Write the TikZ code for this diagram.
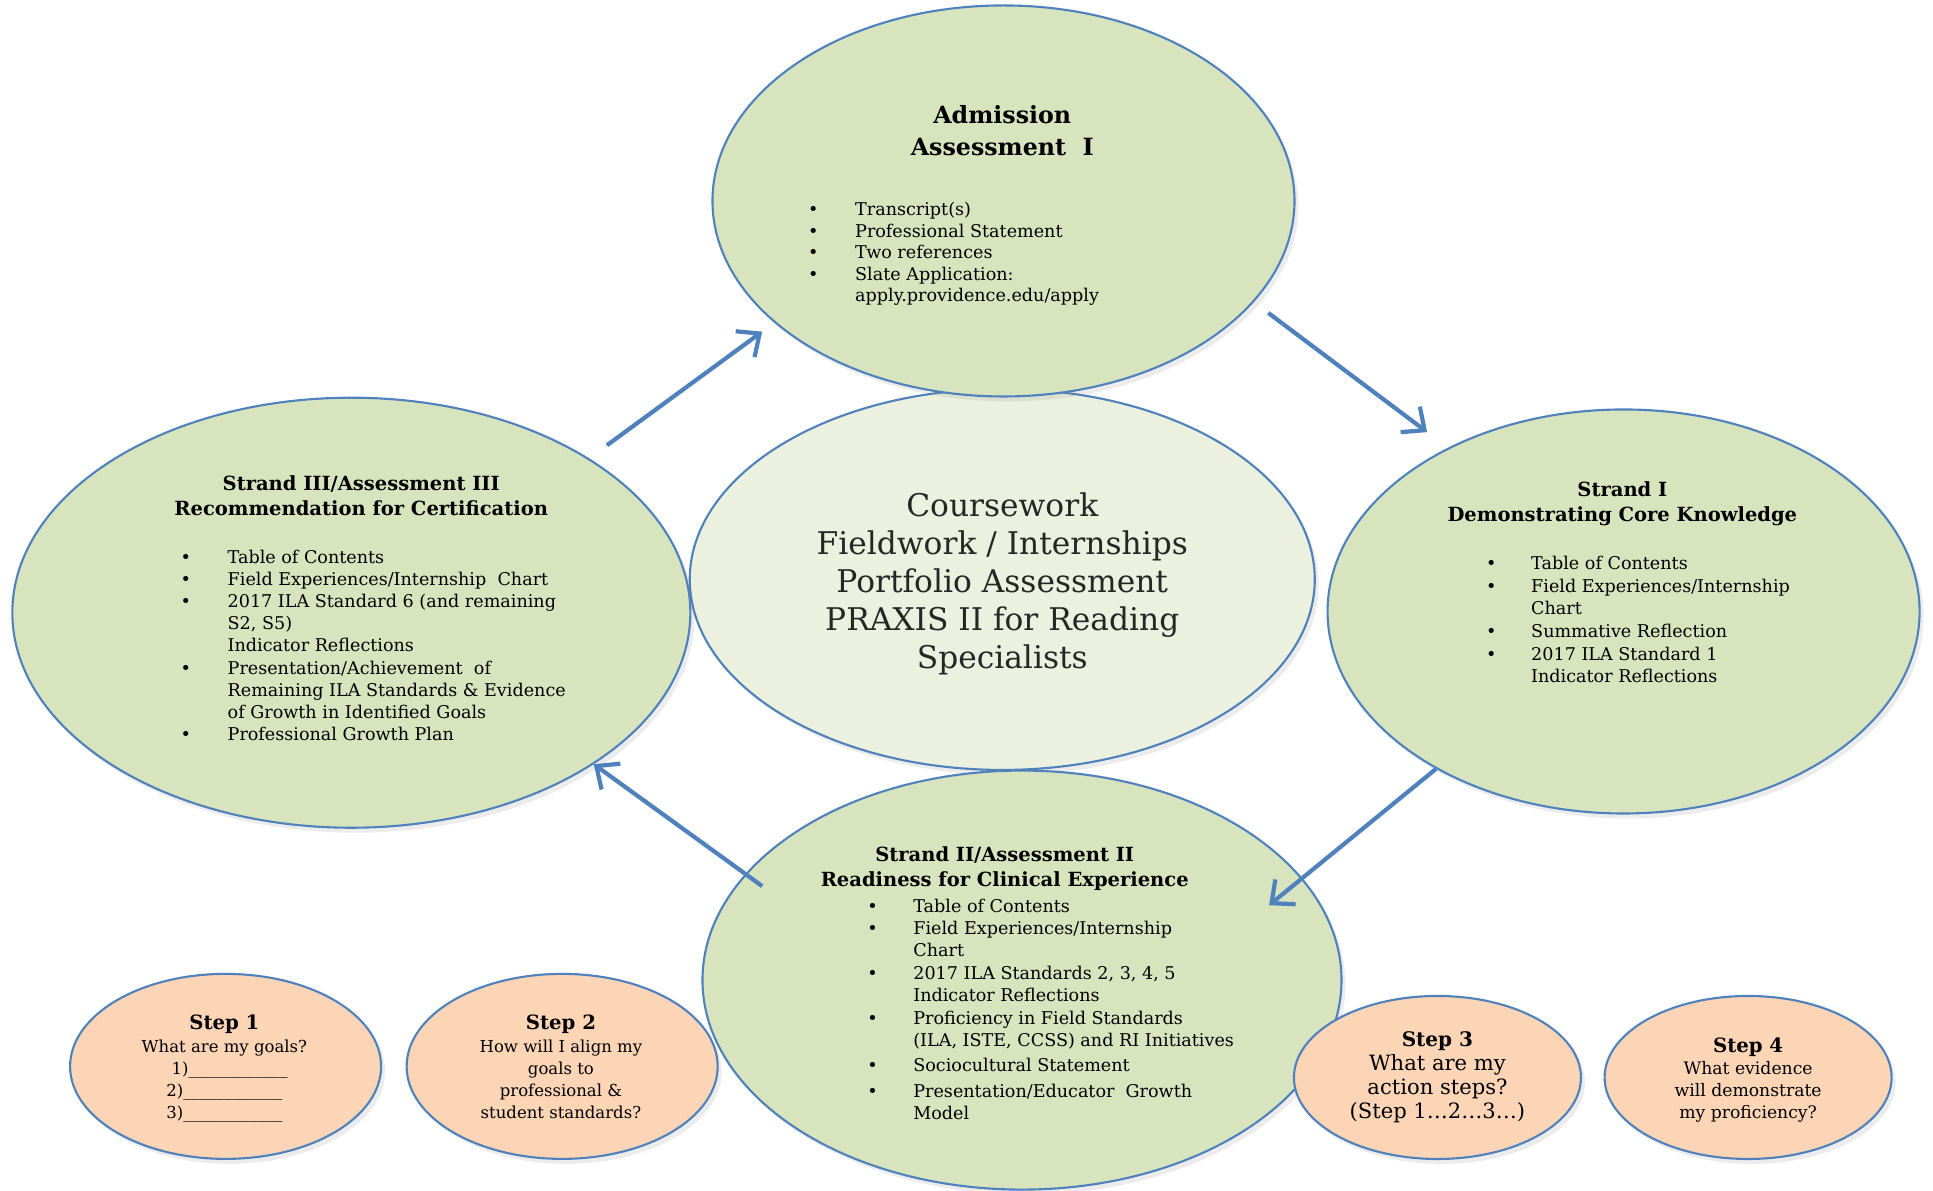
\documentclass[tikz,border=0pt]{standalone}
\usepackage{fontspec}
\setmainfont{DejaVu Serif}
\definecolor{edgeblue}{RGB}{79, 129, 189}
\definecolor{strandgreen}{RGB}{215, 228, 189}
\definecolor{coregreen}{RGB}{235, 241, 222}
\definecolor{steporange}{RGB}{251, 213, 181}
\usetikzlibrary{shapes.geometric, arrows.meta, shadows}

\begin{document}
\begin{tikzpicture}[x=0.12328mm, y=-0.12328mm,
  blob/.style={ellipse, draw=edgeblue, line width=0.6pt, inner sep=0pt,
    drop shadow={opacity=0.15, shadow xshift=0.4mm, shadow yshift=-0.5mm}},
  strandblob/.style={blob, fill=strandgreen},
  stepblob/.style={blob, fill=steporange},
  headtext/.style={anchor=north, align=center, inner sep=0pt, font=\bfseries\fontsize{5.55}{7.3}\selectfont},
  listtext/.style={anchor=base west, inner sep=0pt, font=\fontsize{5}{6.3}\selectfont},
  steptext/.style={anchor=north, align=center, inner sep=0pt, font=\fontsize{4.7}{6.3}\selectfont},
  flow/.style={-{Straight Barb[length=1.8mm, width=3.2mm]}, line width=1.2pt, edgeblue}]
  \useasboundingbox (0,0) rectangle (1568,966);

  % ===== CORE (centre) =====
  \node[blob, fill=coregreen, minimum width=6.25cm, minimum height=3.81cm] (core) at (813,470) {};
  \node[anchor=north, align=center, inner sep=0pt, text=black!85, font=\fontsize{8.9}{10.8}\selectfont] (coretext) at (813,399)
    {Coursework\\Fieldwork / Internships\\Portfolio Assessment\\PRAXIS II for Reading\\Specialists};

  % ===== ADMISSION (top) =====
  \node[strandblob, minimum width=5.82cm, minimum height=3.91cm] (adm) at (814,163) {};
  \node[headtext, font=\bfseries\fontsize{6.75}{9.1}\selectfont] (admhead) at (813,85) {Admission\\Assessment\ \ I};
  \node[listtext, font=\fontsize{5}{6.1}\selectfont] (admlist) at (655,175) {\begin{tabular}[t]{@{}p{0.47cm}@{}l@{}}
    \textbullet & Transcript(s)\\
    \textbullet & Professional Statement\\
    \textbullet & Two references\\
    \textbullet & Slate Application:\\
                & apply.providence.edu/apply
  \end{tabular}};

  % ===== STRAND III (left) =====
  \node[strandblob, minimum width=6.78cm, minimum height=4.30cm] (str3) at (285,497) {};
  \node[headtext] (str3head) at (293,385) {Strand III/Assessment III\\Recommendation for Certification};
  \node[listtext] (str3list) at (146,457) {\begin{tabular}[t]{@{}p{0.47cm}@{}l@{}}
    \textbullet & Table of Contents\\
    \textbullet & Field Experiences/Internship\ \ Chart\\
    \textbullet & 2017 ILA Standard 6 (and remaining\\
                & S2, S5)\\
                & Indicator Reflections\\
    \textbullet & Presentation/Achievement\ \ of\\
                & Remaining ILA Standards \& Evidence\\
                & of Growth in Identified Goals\\
    \textbullet & Professional Growth Plan
  \end{tabular}};

  % ===== STRAND I (right) =====
  \node[strandblob, minimum width=5.92cm, minimum height=4.04cm] (str1) at (1317,496) {};
  \node[headtext] (str1head) at (1316,390) {Strand I\\Demonstrating Core Knowledge};
  \node[listtext, font=\fontsize{5}{6.45}\selectfont] (str1list) at (1205,462) {\begin{tabular}[t]{@{}p{0.45cm}@{}l@{}}
    \textbullet & Table of Contents\\
    \textbullet & Field Experiences/Internship\\
                & Chart\\
    \textbullet & Summative Reflection\\
    \textbullet & 2017 ILA Standard 1\\
                & Indicator Reflections
  \end{tabular}};

  % ===== STRAND II (bottom) =====
  \node[strandblob, minimum width=6.39cm, minimum height=4.19cm] (str2) at (829,795) {};
  \node[headtext] (str2head) at (815,686) {Strand II/Assessment II\\Readiness for Clinical Experience};
  \node[listtext] (str2list) at (703,740) {\begin{tabular}[t]{@{}p{0.46cm}@{}l@{}}
    \textbullet & Table of Contents\\
    \textbullet & Field Experiences/Internship\\
                & Chart\\[0.3pt]
    \textbullet & 2017 ILA Standards 2, 3, 4, 5\\
                & Indicator Reflections\\
    \textbullet & Proficiency in Field Standards\\
                & (ILA, ISTE, CCSS) and RI Initiatives\\[1pt]
    \textbullet & Sociocultural Statement\\[1pt]
    \textbullet & Presentation/Educator\ \ Growth\\
                & Model
  \end{tabular}};

  % cycle arrows
  \draw[flow, shorten <=0.22cm, shorten >=0.15cm] (str3.33) -- (adm.208);
  \draw[flow, shorten <=0.18cm, shorten >=0.26cm] (adm.338) -- (str1.137);
  \draw[flow, shorten >=-0.43cm] (str1.220) -- (str2.20);
  \draw[flow, shorten <=-0.21cm] (str2.159) -- (str3.328);

  % ===== STEPS =====
  \node[stepblob, minimum width=3.11cm, minimum height=1.85cm] (step1) at (183,865) {};
  \node[steptext] (step1text) at (182,823)
    {{\bfseries\fontsize{5.6}{6.3}\selectfont Step 1}\\What are my goals?\\
     \ \ 1)\_\_\_\_\_\_\_\_\_\_\_\_\\2)\_\_\_\_\_\_\_\_\_\_\_\_\\3)\_\_\_\_\_\_\_\_\_\_\_\_};

  \node[stepblob, minimum width=3.11cm, minimum height=1.85cm] (step2) at (456,865) {};
  \node[steptext] (step2text) at (455,823)
    {{\bfseries\fontsize{5.6}{6.3}\selectfont Step 2}\\How will I align my\\goals to\\professional \&\\student standards?};

  \node[stepblob, minimum width=2.87cm, minimum height=1.63cm] (step3) at (1166,874) {};
  \node[steptext, font=\fontsize{6}{6.85}\selectfont] (step3text) at (1166,836)
    {{\bfseries\fontsize{5.7}{6.85}\selectfont Step 3}\\What are my\\action steps?\\(Step 1…2…3…)};

  \node[stepblob, minimum width=2.87cm, minimum height=1.63cm] (step4) at (1418,874) {};
  \node[steptext, font=\fontsize{4.9}{6.3}\selectfont] (step4text) at (1418,841)
    {{\bfseries\fontsize{5.6}{6.3}\selectfont Step 4}\\What evidence\\will demonstrate\\my proficiency?};
\end{tikzpicture}
\end{document}
